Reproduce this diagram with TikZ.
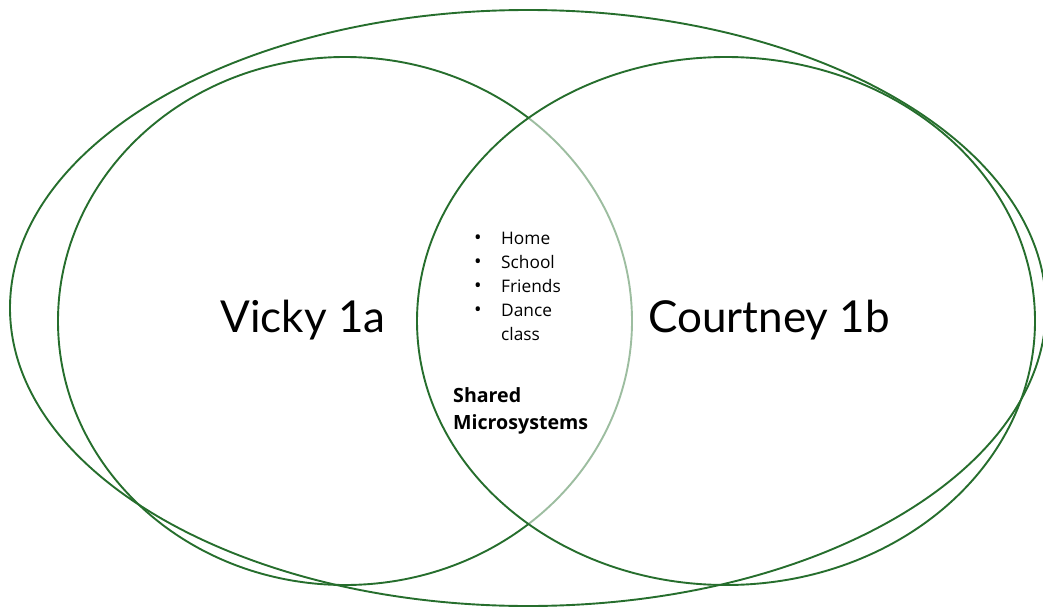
\documentclass[tikz,border=0pt]{standalone}
\usepackage{fontspec}
\setmainfont{Lato}
\newfontfamily\listfont{Open Sans}
\definecolor{ringgreen}{RGB}{38,110,45}
\begin{document}
\begin{tikzpicture}[x=1pt,y=-1pt,
  ring/.style={draw=ringgreen,line width=1.9pt},
  bigname/.style={font=\fontsize{44}{50}\selectfont,inner sep=0pt},
  item/.style={font=\listfont\fontsize{17.3}{24}\selectfont,anchor=base west,inner sep=0pt},
  dot/.style={font=\listfont\fontsize{20}{24}\selectfont,anchor=base,inner sep=0pt},
  heading/.style={font=\listfont\bfseries\fontsize{19.6}{27}\selectfont,anchor=base west,inner sep=0pt}]
\useasboundingbox (0,0) rectangle (1043,607);
\clip (0,0) rectangle (1043,607);
% left circle, then the right one with a translucent white face over it
\draw[ring] (345,321) ellipse [x radius=287,y radius=264];
\draw[ring,fill=white,fill opacity=0.55] (726,321) ellipse [x radius=309,y radius=264];
% enclosing ellipse
\draw[ring] (528,308) ellipse [x radius=518,y radius=298];
% names
\node[bigname] (vicky) at (303,320) {Vicky 1a};
\node[bigname] (courtney) at (769,320) {Courtney 1b};
% shared list
\foreach \t/\yy in {Home/244,School/268,Friends/292,Dance/316}{
  \node[dot] at (478,\yy) {•};
  \node[item] at (501,\yy) {\t};
}
\node[item] (cls) at (501,340) {class};
\node[heading] (sh1) at (453,402) {Shared};
\node[heading] (sh2) at (453,429) {Microsystems};
\end{tikzpicture}
\end{document}
